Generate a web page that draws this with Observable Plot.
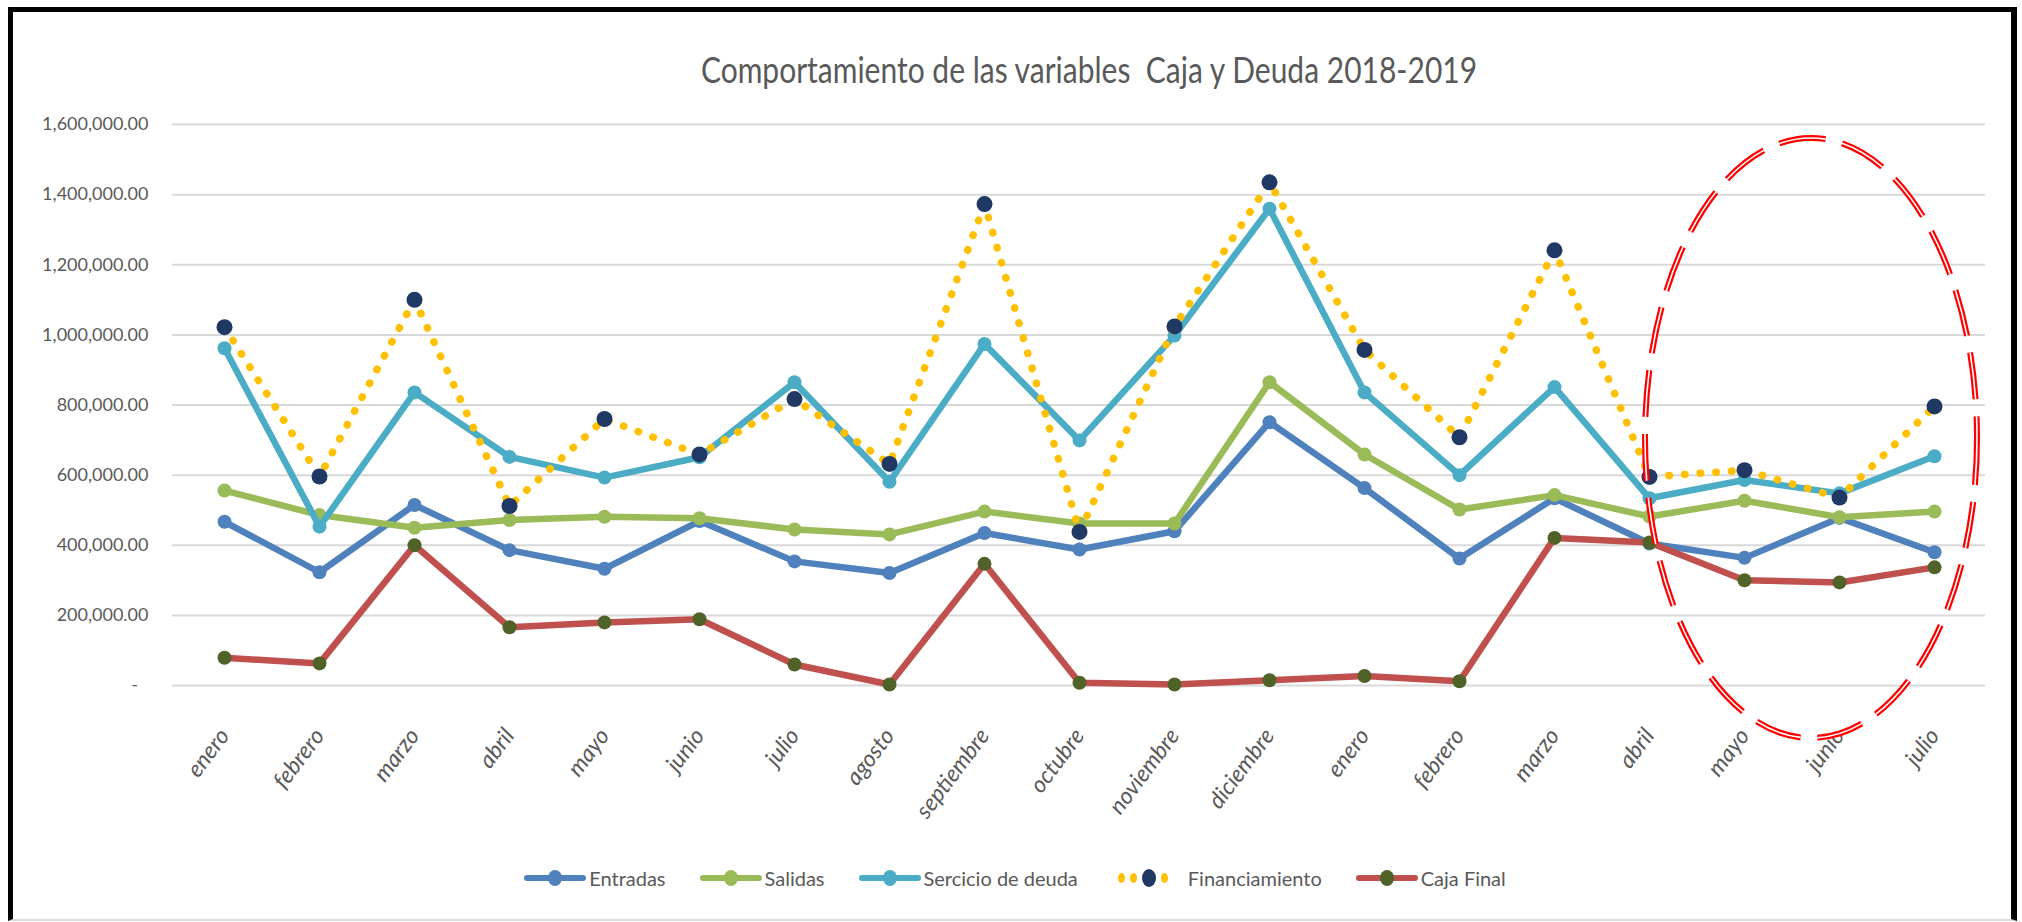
<!DOCTYPE html>
<html>
<head>
<meta charset="utf-8">
<script src="https://cdn.jsdelivr.net/npm/d3@7"></script>
<script src="https://cdn.jsdelivr.net/npm/@observablehq/plot@0.6"></script>
<style>
  html, body { margin: 0; padding: 0; background: #fff; }
  #wrap { position: relative; width: 2022px; height: 922px; overflow: hidden; font-family: Lato, "Open Sans", sans-serif; color: #595959; }
  #frame { position: absolute; left: 8px; top: 7px; width: 2009px; height: 914px; box-sizing: border-box;
           border-left: 5px solid #000; border-top: 5px solid #000; border-right: 6px solid #000; border-bottom: 2px solid #ddd; }
  #title { position: absolute; left: 1089px; top: 69px; transform: translate(-50%, -50%) scaleY(1.2);
           font-size: 30px; white-space: pre; color: #595959; }
  #chart { position: absolute; left: 0; top: 0; }
  #legend { position: absolute; left: 0; top: 866px; width: 2030px; height: 24px; display: flex; justify-content: center; align-items: center; gap: 34px; font-size: 20px; }
  .item { display: flex; align-items: center; gap: 3px; }
  .sw { position: relative; width: 62px; height: 24px; }
  .sw .ln { position: absolute; left: 0; right: 0; top: 9px; height: 6px; border-radius: 3px; }
  .sw .mk { position: absolute; left: 24px; top: 4px; width: 14px; height: 16px; border-radius: 50%; }
  .fsw { display: flex; align-items: center; gap: 8px; width: 62px; justify-content: center; }
  .yd { width: 7px; height: 10px; border-radius: 50%; background: #FFC000; }
  .nd { width: 14px; height: 18px; border-radius: 50%; background: #1F3864; }
  #ann { position: absolute; left: 0; top: 0; pointer-events: none; }
</style>
</head>
<body>
<div id="wrap">
  <div id="frame"></div>
  <div id="title">Comportamiento de las variables  Caja y Deuda 2018-2019</div>
  <div id="chart"></div>
  <div id="legend"></div>
  <svg id="ann" width="2022" height="922"></svg>
</div>
<script>
// ---- data ----
const months = ["enero","febrero","marzo","abril","mayo","junio","julio","agosto","septiembre","octubre","noviembre","diciembre","enero","febrero","marzo","abril","mayo","junio","julio"];
const entradas       = [467000, 323000, 515000, 386000, 333000, 469000, 354000, 321000, 435000, 388000, 440000, 751000, 563000, 362000, 534000, 405000, 364000, 478000, 380000];
const salidas        = [556000, 486000, 450000, 472000, 481000, 477000, 445000, 431000, 496000, 462000, 462000, 865000, 659000, 502000, 543000, 482000, 527000, 480000, 496000];
const servicioDeuda  = [962000, 453000, 836000, 652000, 593000, 651000, 865000, 581000, 974000, 699000, 998000, 1360000, 836000, 600000, 851000, 534000, 586000, 548000, 654000];
const financiamiento = [1022000, 596000, 1100000, 512000, 760000, 659000, 817000, 632000, 1373000, 438000, 1024000, 1435000, 957000, 708000, 1241000, 595000, 614000, 536000, 796000];
const cajaFinal      = [79000, 63000, 400000, 166000, 180000, 189000, 60000, 3000, 347000, 8000, 3000, 15000, 27000, 12000, 421000, 408000, 300000, 294000, 337000];
const seriesNames = ["Entradas", "Salidas", "Sercicio de deuda", "Financiamiento", "Caja Final"];
const yTicks = [0, 200000, 400000, 600000, 800000, 1000000, 1200000, 1400000, 1600000];

const idx = d3.range(months.length);
const rows = arr => idx.map(i => ({i, v: arr[i]}));

const C = {
  ent: "#4F81BD", sal: "#9BBB59", ser: "#4BACC6", fin: "#FFC000", finMk: "#1F3864", caja: "#C0504D", cajaMk: "#4F6228"
};

const lineOpts = (stroke) => ({x: "i", y: "v", stroke, strokeWidth: 6.5, strokeLinejoin: "round", strokeLinecap: "round"});

const svg = Plot.plot({
  width: 2022,
  height: 922,
  marginTop: 124,
  marginBottom: 237,
  marginLeft: 172,
  marginRight: 37,
  style: {fontFamily: "Lato, 'Open Sans', sans-serif", fontSize: "18px", color: "#595959", background: "transparent", overflow: "visible"},
  x: {type: "point", domain: idx, padding: 0.5, tickFormat: i => months[i], tickRotate: -53, tickSize: 0, tickPadding: 46, label: null},
  y: {domain: [0, 1600000], ticks: yTicks, tickFormat: d => d === 0 ? "-\u2007" : d3.format(",.2f")(d), tickSize: 0, tickPadding: 24, label: null},
  marks: [
    Plot.ruleY(yTicks, {stroke: "#D9D9D9", strokeWidth: 2}),
    Plot.line(rows(entradas), lineOpts(C.ent)),
    Plot.dot(rows(entradas), {x: "i", y: "v", fill: C.ent, r: 7}),
    Plot.line(rows(salidas), lineOpts(C.sal)),
    Plot.dot(rows(salidas), {x: "i", y: "v", fill: C.sal, r: 7}),
    Plot.line(rows(servicioDeuda), lineOpts(C.ser)),
    Plot.dot(rows(servicioDeuda), {x: "i", y: "v", fill: C.ser, r: 7}),
    Plot.line(rows(financiamiento), {x: "i", y: "v", stroke: C.fin, strokeWidth: 7.5, strokeDasharray: "0.5 15.2", strokeLinecap: "round"}),
    Plot.dot(rows(financiamiento), {x: "i", y: "v", fill: C.finMk, r: 8}),
    Plot.line(rows(cajaFinal), lineOpts(C.caja)),
    Plot.dot(rows(cajaFinal), {x: "i", y: "v", fill: C.cajaMk, r: 7})
  ]
});
document.getElementById("chart").appendChild(svg);
d3.select(svg).selectAll("text")
  .filter(function() { return months.includes(this.textContent.trim()); })
  .style("font-style", "italic").style("font-size", "23px");

// ---- legend ----
const legendDefs = [
  {name: seriesNames[0], line: C.ent, mk: C.ent},
  {name: seriesNames[1], line: C.sal, mk: C.sal},
  {name: seriesNames[2], line: C.ser, mk: C.ser},
  {name: seriesNames[3], fin: true},
  {name: seriesNames[4], line: C.caja, mk: C.cajaMk}
];
const leg = d3.select("#legend");
legendDefs.forEach(d => {
  const it = leg.append("div").attr("class", "item");
  if (d.fin) {
    const s = it.append("div").attr("class", "fsw").style("gap", "5px");
    s.append("div").attr("class", "yd");
    s.append("div").attr("class", "yd");
    s.append("div").attr("class", "nd");
    s.append("div").attr("class", "yd");
    it.style("gap", "14px");
  } else {
    const s = it.append("div").attr("class", "sw");
    s.append("div").attr("class", "ln").style("background", d.line);
    s.append("div").attr("class", "mk").style("background", d.mk);
  }
  it.append("span").text(d.name);
});

// ---- annotation: red dashed ellipse (double line) ----
const ann = d3.select("#ann");
ann.append("ellipse").attr("cx", 1811).attr("cy", 438).attr("rx", 166).attr("ry", 300)
  .attr("fill", "none").attr("stroke", "#FF0000").attr("stroke-width", 6).attr("stroke-dasharray", "47 17");
ann.append("ellipse").attr("cx", 1811).attr("cy", 438).attr("rx", 166).attr("ry", 300)
  .attr("fill", "none").attr("stroke", "#FFFFFF").attr("stroke-width", 1.6).attr("stroke-dasharray", "47 17");
</script>
</body>
</html>
